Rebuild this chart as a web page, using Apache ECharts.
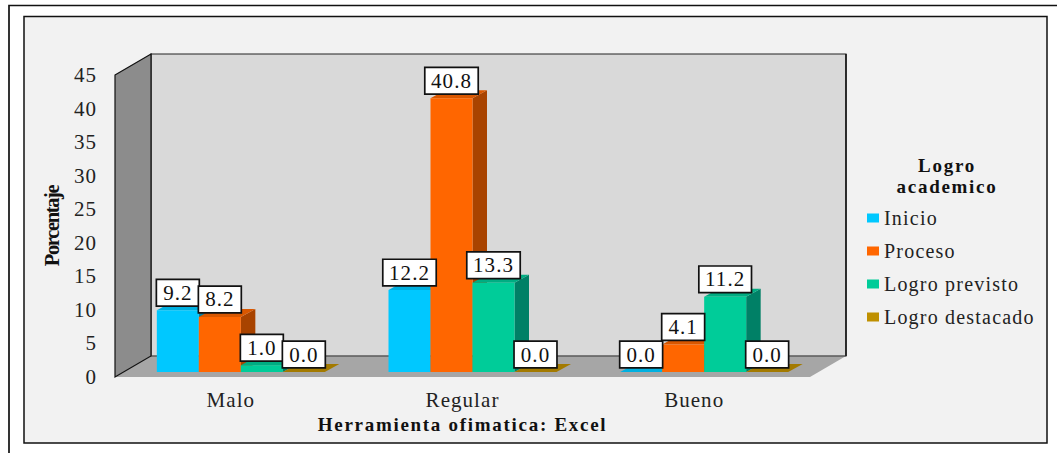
<!DOCTYPE html>
<html>
<head>
<meta charset="utf-8">
<style>
html,body{margin:0;padding:0;background:#fff}
#c{width:1057px;height:453px}
#c svg text{letter-spacing:.05em}
#c svg text[style*="20px"]{letter-spacing:.06em}
#c svg text[style*="bold"]{letter-spacing:.09em}
#c svg text[style*="20.5px"]{letter-spacing:-.066em}
</style>
<script src="https://cdn.jsdelivr.net/npm/echarts@6/dist/echarts.min.js"></script>
</head>
<body>
<div id="c"></div>
<script>
var categories = ['Malo', 'Regular', 'Bueno'];
var seriesNames = ['Inicio', 'Proceso', 'Logro previsto', 'Logro destacado'];
var inicio = [9.2, 12.2, 0.0];
var proceso = [8.2, 40.8, 4.1];
var logroPrevisto = [1.0, 13.3, 11.2];
var logroDestacado = [0.0, 0.0, 0.0];
var allValues = [inicio, proceso, logroPrevisto, logroDestacado];
var frontColors = ['#00c8ff', '#ff6600', '#00cc99', '#bf9000'];
var topColors = ['#00b0e0', '#d95700', '#00ad82', '#a37a00'];
var sideColors = ['#007fa3', '#a84300', '#008066', '#7a5c00'];

var SERIF = '"Liberation Serif","Times New Roman",serif';
var WALL_DX = 36, WALL_DY = 21;      // depth of the 3D box
var BAR_DX = 14.5, BAR_DY = 8;       // depth of a bar
var BAR_SHIFT_X = 10, BAR_SHIFT_Y = 5; // bars stand a little inside the floor
var BAR_W = 42;

function poly(points, fill, stroke, lw) {
  return {type: 'polygon', shape: {points: points},
    style: {fill: fill, stroke: stroke || 'none', lineWidth: lw || 0}, silent: true};
}

function renderWalls(params, api) {
  var c = params.coordSys;
  var l = c.x, r = c.x + c.width, t = c.y, b = c.y + c.height;
  var dx = WALL_DX, dy = WALL_DY;
  return {type: 'group', children: [
    poly([[l, b], [r, b], [r + dx, b - dy], [l + dx, b - dy]], '#a6a6a6'),
    poly([[l + dx, t - dy], [r + dx, t - dy], [r + dx, b - dy], [l + dx, b - dy]], '#d9d9d9', '#222', 1.2),
    {type: 'line', shape: {x1: l + dx, y1: b - dy, x2: r + dx, y2: b - dy}, style: {stroke: '#777', lineWidth: 1.2}, silent: true},
    {type: 'line', shape: {x1: r + dx, y1: t - dy, x2: r + dx, y2: b - dy}, style: {stroke: '#111', lineWidth: 1.4}, silent: true},
    poly([[l, t], [l + dx, t - dy], [l + dx, b - dy], [l, b]], '#8c8c8c', '#111', 1.2)
  ]};
}

function barBox(idx, api, s) {
  var top = api.coord([api.value(0), api.value(1)]);
  var base = api.coord([api.value(0), 0]);
  var x = top[0] + BAR_SHIFT_X + (s - 2) * BAR_W;
  return {x: x, top: top[1] - BAR_SHIFT_Y, base: base[1] - BAR_SHIFT_Y};
}

function makeBarRenderer(s) {
  return function (params, api) {
    var b = barBox(params.dataIndex, api, s);
    var x2 = b.x + BAR_W;
    return {type: 'group', children: [
      poly([[x2, b.top], [x2 + BAR_DX, b.top - BAR_DY], [x2 + BAR_DX, b.base - BAR_DY], [x2, b.base]], sideColors[s]),
      poly([[b.x, b.top], [x2, b.top], [x2 + BAR_DX, b.top - BAR_DY], [b.x + BAR_DX, b.top - BAR_DY]], topColors[s]),
      {type: 'rect', shape: {x: b.x, y: b.top, width: BAR_W, height: b.base - b.top},
        style: {fill: frontColors[s]}, silent: true}
    ]};
  };
}

function renderLabel(params, api) {
  var s = api.value(2);
  var b = barBox(params.dataIndex, api, s);
  return {type: 'text', silent: true,
    x: b.x + BAR_W / 2, y: b.top - 5,
    style: {
      text: api.value(1).toFixed(1),
      font: '21px ' + SERIF, fill: '#111',
      align: 'center', verticalAlign: 'bottom',
      backgroundColor: '#fff', borderColor: '#111', borderWidth: 1.7,
      padding: [2, 7.5, 2, 7.5]
    }};
}

var series = [{
  type: 'custom', name: 'walls', z: 1, silent: true,
  data: [[0, 0]], renderItem: renderWalls, tooltip: {show: false}
}];
allValues.forEach(function (vals, s) {
  series.push({
    type: 'custom', name: seriesNames[s], z: 2 + s, silent: true,
    itemStyle: {color: frontColors[s]},
    data: vals.map(function (v, i) { return [i, v]; }),
    encode: {x: 0, y: 1},
    renderItem: makeBarRenderer(s)
  });
});
var labelData = [];
allValues.forEach(function (vals, s) {
  vals.forEach(function (v, i) { labelData.push([i, v, s]); });
});
series.push({
  type: 'custom', name: 'labels', z: 10, silent: true,
  data: labelData, encode: {x: 0, y: 1}, renderItem: renderLabel
});

var chart = echarts.init(document.getElementById('c'), null, {renderer: 'svg'});
chart.setOption({
  animation: false,
  backgroundColor: '#fff',
  textStyle: {fontFamily: SERIF},
  grid: {left: 115, top: 75, width: 695, height: 302, containLabel: false},
  title: {
    text: 'Logro\nacademico', left: 942, top: 150, textAlign: 'center',
    textStyle: {fontFamily: SERIF, fontWeight: 'bold', fontSize: 19, color: '#111', lineHeight: 21}
  },
  legend: {
    data: seriesNames, orient: 'vertical', left: 862, top: 203,
    itemWidth: 12, itemHeight: 9, itemGap: 13, icon: 'rect',
    selectedMode: false,
    textStyle: {fontFamily: SERIF, fontSize: 20, color: '#222', padding: [0, 0, 0, 0], lineHeight: 20}
  },
  xAxis: {
    type: 'category', data: categories,
    name: 'Herramienta ofimatica: Excel', nameLocation: 'middle', nameGap: 38,
    nameTextStyle: {fontFamily: SERIF, fontWeight: 'bold', fontSize: 19, color: '#111'},
    axisLine: {show: false}, axisTick: {show: false}, splitLine: {show: false},
    axisLabel: {fontFamily: SERIF, fontSize: 21, color: '#222', margin: 12}
  },
  yAxis: {
    type: 'value', min: 0, max: 45, interval: 5,
    name: 'Porcentaje', nameLocation: 'middle', nameRotate: 90, nameGap: 53,
    nameTextStyle: {fontFamily: SERIF, fontWeight: 'bold', fontSize: 20.5, color: '#111'},
    axisLine: {show: false}, axisTick: {show: false}, splitLine: {show: false},
    axisLabel: {fontFamily: SERIF, fontSize: 21, color: '#222', margin: 18, padding: [3, 0, 0, 0]}
  },
  graphic: {elements: [
    {type: 'rect', z: -10, silent: true, shape: {x: 9, y: 5.5, width: 1060, height: 460},
      style: {fill: '#fff', stroke: '#111', lineWidth: 1.7}},
    {type: 'rect', z: -9, silent: true, shape: {x: 24, y: 16.5, width: 1023, height: 426.5},
      style: {fill: '#f2f2f2', stroke: '#111', lineWidth: 1.5}}
  ]},
  series: series
});
</script>
</body>
</html>
